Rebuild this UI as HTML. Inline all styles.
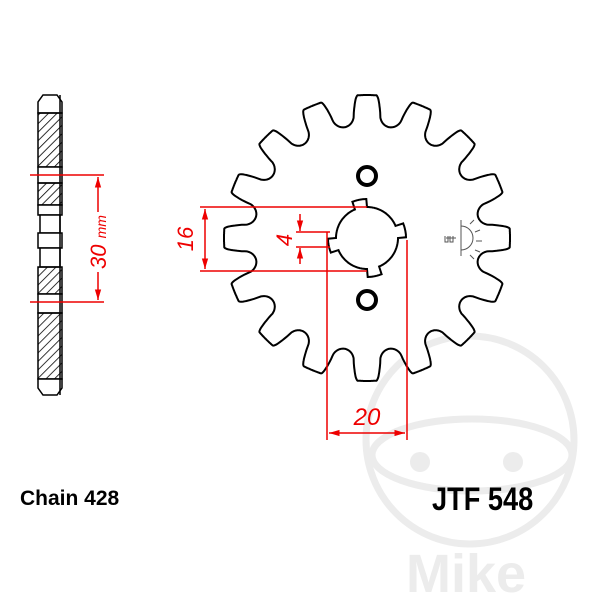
<!DOCTYPE html>
<html><head><style>html,body{margin:0;padding:0;background:#fff;width:600px;height:600px;overflow:hidden}</style></head>
<body>
<svg id="s" width="600" height="600" viewBox="0 0 600 600" xmlns="http://www.w3.org/2000/svg" font-family="Liberation Sans, sans-serif">
<defs>
<pattern id="h" width="6" height="6" patternUnits="userSpaceOnUse" patternTransform="rotate(45)">
<line x1="0" y1="0" x2="0" y2="6" stroke="#000" stroke-width="1.6"/>
</pattern>
<marker id="a" viewBox="0 0 10 10" refX="10" refY="5" markerWidth="7" markerHeight="7" orient="auto-start-reverse"><path d="M0,2 L10,5 L0,8z" fill="#e00"/></marker>
</defs>
<!-- watermark -->
<g fill="none" stroke="#ececec" stroke-width="7">
<circle cx="470" cy="440" r="104"/>
<ellipse cx="472" cy="455" rx="100" ry="36"/>
</g>
<circle cx="420" cy="462" r="10" fill="#ececec"/>
<circle cx="513" cy="462" r="10" fill="#ececec"/>
<text x="466" y="592" font-size="54" font-weight="bold" fill="#ececec" text-anchor="middle">Mike</text>

<!-- side view -->
<g stroke="#000" stroke-width="1.5">
<path d="M38,113 L38,102 L43,95 L57,95 L62,102 L62,113 Z" fill="#fff"/>
<rect x="38" y="113" width="24" height="54" fill="url(#h)"/>
<rect x="38" y="167" width="24" height="16" fill="#fff"/>
<rect x="38" y="183" width="24" height="22" fill="url(#h)"/>
<rect x="38" y="205" width="24" height="10" fill="#fff"/>
<rect x="40" y="215" width="20" height="18" fill="#fff"/>
<rect x="38" y="233" width="24" height="15" fill="#fff"/>
<rect x="40" y="248" width="20" height="19" fill="#fff"/>
<rect x="38" y="267" width="24" height="27" fill="url(#h)"/>
<rect x="38" y="294" width="24" height="19" fill="#fff"/>
<rect x="38" y="313" width="24" height="66" fill="url(#h)"/>
<path d="M38,379 L38,388 L43,395 L57,395 L62,388 L62,379 Z" fill="#fff"/>
<line x1="60" y1="95" x2="60" y2="395"/>
</g>
<g stroke="#e00" stroke-width="1.5" fill="none">
<line x1="30" y1="175" x2="104" y2="175"/>
<line x1="30" y1="302" x2="104" y2="302"/>
<line x1="98" y1="177" x2="98" y2="212" marker-start="url(#a)"/>
<line x1="98" y1="272" x2="98" y2="300" marker-end="url(#a)"/>
</g>
<text transform="translate(106,242) rotate(-90)" font-size="22" font-style="italic" fill="#e00" text-anchor="middle">30 <tspan font-size="14">mm</tspan></text>

<!-- sprocket -->
<path id="sp" fill="#fff" stroke="#000" stroke-width="2"/>
<path id="bore" fill="#fff" stroke="#000" stroke-width="2"/>
<circle cx="367" cy="176" r="9" fill="none" stroke="#000" stroke-width="4"/>
<circle cx="367" cy="300" r="9" fill="none" stroke="#000" stroke-width="4"/>
<g stroke="#555" stroke-width="1" fill="none">
<line x1="461" y1="220" x2="461" y2="256"/>
<path d="M461,226 A12,12 0 0 1 461,250"/>
<path d="M470,224 l4,-4 M475,232 l5,-2 M476,241 l6,0 M475,250 l5,2 M470,255 l4,4"/>
<path d="M445,236 v6 h3 v-6 M450,236 v6 h3 v-6 M446,238 h10"/>
</g>

<!-- red dims -->
<g stroke="#e00" stroke-width="1.5" fill="none">
<line x1="200" y1="207" x2="367" y2="207"/>
<line x1="200" y1="271" x2="367" y2="271"/>
<line x1="205" y1="209" x2="205" y2="269" marker-start="url(#a)" marker-end="url(#a)"/>
<line x1="296" y1="232" x2="330" y2="232"/>
<line x1="296" y1="247" x2="330" y2="247"/>
<line x1="300" y1="214" x2="300" y2="231" marker-end="url(#a)"/>
<line x1="300" y1="264" x2="300" y2="248" marker-end="url(#a)"/>
<line x1="327" y1="232" x2="327" y2="440"/>
<line x1="407" y1="240" x2="407" y2="440"/>
<line x1="329" y1="433" x2="405" y2="433" marker-start="url(#a)" marker-end="url(#a)"/>
</g>
<text transform="translate(193,239) rotate(-90)" font-size="22" font-style="italic" fill="#e00" text-anchor="middle">16</text>
<text transform="translate(292,240) rotate(-90)" font-size="22" font-style="italic" fill="#e00" text-anchor="middle">4</text>
<text x="367" y="425" font-size="24" font-style="italic" fill="#e00" text-anchor="middle">20</text>

<text x="20" y="505" font-size="21" font-weight="bold" fill="#000">Chain 428</text>
<text x="432" y="510" font-size="32" font-weight="bold" fill="#000" transform="translate(432,0) scale(0.85,1) translate(-432,0)">JTF 548</text>
</svg>
<script>
(function(){
var cx=367,cy=238,Rt=143,rc=124,rr=11,N=16,pts=[];
var per=2*Math.PI/N, seat=rr/rc, flankEnd=7.6*Math.PI/180;
for(var i=0;i<N*120;i++){
 var th=i*2*Math.PI/(N*120);
 var ph=((th-per/2)%per+per)%per; if(ph>per/2) ph=ph-per; var a=Math.abs(ph);
 var r;
 if(a<seat){var d=rc*a; r=rc-Math.sqrt(Math.max(0,rr*rr-d*d));}
 else if(a<flankEnd){var t=(a-seat)/(flankEnd-seat); r=rc+(Rt-rc)*Math.sin(t*Math.PI/2);}
 else r=Rt;
 pts.push((cx+r*Math.sin(th)).toFixed(1)+","+(cy-r*Math.cos(th)).toFixed(1));
}
document.getElementById("sp").setAttribute("d","M"+pts.join(" L")+"Z");
var b=[];
for(var j=0;j<360;j++){
 var t2=j*Math.PI/180; var m=((j+22)%90+90)%90; var r2=(m<22)?39:31;
 b.push((cx+r2*Math.cos(t2)).toFixed(1)+","+(cy+r2*Math.sin(t2)).toFixed(1));
}
document.getElementById("bore").setAttribute("d","M"+b.join(" L")+"Z");
})();
</script>
</body></html>
